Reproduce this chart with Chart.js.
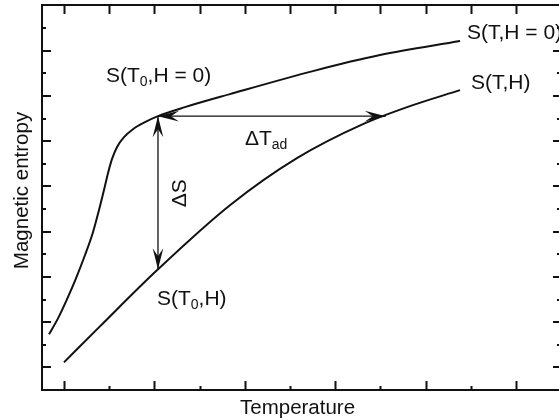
<!DOCTYPE html>
<html>
<head>
<meta charset="utf-8">
<script src="https://cdn.jsdelivr.net/npm/chart.js@4/dist/chart.umd.min.js"></script>
<style>
  html, body { margin: 0; padding: 0; overflow: hidden; background: #fff; }
  canvas { display: block; }
</style>
</head>
<body>
<canvas id="entropy-chart" width="562" height="420"></canvas>
<script>
// S(T, H = 0) curve
const zeroFieldT = [-0.166, -0.066, 0.033, 0.133, 0.232, 0.321, 0.387, 0.442, 0.487, 0.531, 0.586, 0.664, 0.763, 0.896, 1.04, 1.338, 1.836, 2.754, 3.496, 4.381];
const zeroFieldS = [0.73, 1.084, 1.504, 1.969, 2.478, 2.987, 3.473, 3.916, 4.292, 4.602, 4.867, 5.088, 5.265, 5.42, 5.553, 5.752, 6.04, 6.549, 6.903, 7.212];

// S(T, H) curve
const fieldT = [0, 0.398, 1.04, 1.836, 2.577, 3.307, 3.827, 4.381];
const fieldS = [0.111, 0.907, 2.168, 3.584, 4.624, 5.376, 5.774, 6.128];

// arrows: delta T_ad (horizontal) and delta S (vertical)
const dTadT = [1.04, 3.56];
const dTadS = [5.553, 5.553];
const dST = [1.04, 1.04];
const dSS = [5.553, 2.168];

// tick positions
const xMajor = [0, 1, 2, 3, 4, 5];
const xMinor = [0.5, 1.5, 2.5, 3.5, 4.5, 5.5];
const yMajor = [0, 1, 2, 3, 4, 5, 6, 7, 8];
const yMinor = [-0.5, 0.5, 1.5, 2.5, 3.5, 4.5, 5.5, 6.5, 7.5];

const xTitle = "Temperature";
const yTitle = "Magnetic entropy";

const toPoints = (xs, ys) => xs.map((x, i) => ({ x: x, y: ys[i] }));

const FONT = '21px "Liberation Sans", Arial, sans-serif';
const SUBFONT = '14px "Liberation Sans", Arial, sans-serif';
const TITLEFONT = '20.5px "Liberation Sans", Arial, sans-serif';
const INK = "#111";

// labels: runs of [text, isSub], anchored at data coords
const labels = [
  { x: 0.465, y: 6.305, runs: [["S(T", 0], ["0", 1], [",H = 0)", 0]] },
  { x: 4.458, y: 7.257, runs: [["S(T,H = 0)", 0]] },
  { x: 4.502, y: 6.15, runs: [["S(T,H)", 0]] },
  { x: 2.002, y: 4.912, runs: [["\u0394T", 0], ["ad", 1]] },
  { x: 1.35, y: 3.54, runs: [["\u0394S", 0]], rotate: true },
  { x: 1.029, y: 1.372, runs: [["S(T", 0], ["0", 1], [",H)", 0]] },
];

function drawRuns(ctx, runs) {
  let cx = 0;
  runs.forEach(([t, sub]) => {
    ctx.font = sub ? SUBFONT : FONT;
    ctx.fillText(t, cx, sub ? 4 : 0);
    cx += ctx.measureText(t).width;
  });
}

function arrowHead(ctx, tx, ty, dx, dy) {
  // dx, dy: unit vector pointing towards the tip
  const len = 21, half = 5.3, notch = 13;
  const nx = -dy, ny = dx;
  ctx.beginPath();
  ctx.moveTo(tx, ty);
  ctx.lineTo(tx - dx * len + nx * half, ty - dy * len + ny * half);
  ctx.lineTo(tx - dx * notch, ty - dy * notch);
  ctx.lineTo(tx - dx * len - nx * half, ty - dy * len - ny * half);
  ctx.closePath();
  ctx.fill();
}

const decor = {
  id: "decor",
  afterDatasetsDraw(chart) {
    const { ctx, chartArea: a, scales } = chart;
    const sx = scales.x, sy = scales.y;
    ctx.save();
    ctx.strokeStyle = INK;
    ctx.fillStyle = INK;

    // ticks (inward)
    ctx.lineWidth = 2;
    ctx.beginPath();
    xMajor.concat(xMinor).forEach((v) => {
      const px = Math.round(sx.getPixelForValue(v)) + 0.5;
      const isMajor = xMajor.includes(v);
      ctx.moveTo(px, a.bottom);
      ctx.lineTo(px, a.bottom - (isMajor ? 9 : 4));
      ctx.moveTo(px, a.top);
      ctx.lineTo(px, a.top + 9);
    });
    yMajor.concat(yMinor).forEach((v) => {
      const py = Math.round(sy.getPixelForValue(v));
      const isMajor = yMajor.includes(v);
      ctx.moveTo(a.left, py);
      ctx.lineTo(a.left + (isMajor ? 9 : 4), py);
      ctx.moveTo(a.right, py);
      ctx.lineTo(a.right - (isMajor ? 7 : 3), py);
    });
    ctx.stroke();

    // frame
    ctx.lineWidth = 2;
    ctx.strokeRect(a.left, a.top, a.right - a.left, a.bottom - a.top);

    // arrow heads
    const ax0 = sx.getPixelForValue(dTadT[0]), ax1 = sx.getPixelForValue(dTadT[1]);
    const ay = sy.getPixelForValue(dTadS[0]);
    arrowHead(ctx, ax0, ay, -1, 0);
    arrowHead(ctx, ax1, ay, 1, 0);
    const bx = sx.getPixelForValue(dST[0]);
    const by0 = sy.getPixelForValue(dSS[0]), by1 = sy.getPixelForValue(dSS[1]);
    arrowHead(ctx, bx, by0, 0, -1);
    arrowHead(ctx, bx, by1, 0, 1);

    // labels
    ctx.textBaseline = "alphabetic";
    ctx.textAlign = "left";
    labels.forEach((l) => {
      ctx.save();
      ctx.translate(sx.getPixelForValue(l.x), sy.getPixelForValue(l.y));
      if (l.rotate) ctx.rotate(-Math.PI / 2);
      drawRuns(ctx, l.runs);
      ctx.restore();
    });

    // axis titles
    ctx.font = TITLEFONT;
    ctx.fillText(xTitle, 240, 414);
    ctx.save();
    ctx.translate(28, (a.top + a.bottom) / 2 - 7);
    ctx.rotate(-Math.PI / 2);
    ctx.textAlign = "center";
    ctx.fillText(yTitle, 0, 0);
    ctx.restore();

    ctx.restore();
  },
};

const line = (pts, w) => ({
  data: pts,
  borderColor: INK,
  borderWidth: w,
  pointRadius: 0,
  fill: false,
  cubicInterpolationMode: "monotone",
});

new Chart(document.getElementById("entropy-chart"), {
  type: "line",
  data: {
    datasets: [
      line(toPoints(zeroFieldT, zeroFieldS), 2),
      line(toPoints(fieldT, fieldS), 2),
      line(toPoints(dTadT, dTadS), 1.3),
      line(toPoints(dST, dSS), 1.3),
    ],
  },
  options: {
    responsive: false,
    animation: false,
    events: [],
    layout: { padding: { left: 42, top: 5, right: 2, bottom: 30 } },
    plugins: { legend: { display: false }, tooltip: { enabled: false } },
    scales: {
      x: { type: "linear", display: false, min: -0.243, max: 5.487 },
      y: { type: "linear", display: false, min: -0.5, max: 8.01 },
    },
  },
  plugins: [decor],
});
</script>
</body>
</html>
